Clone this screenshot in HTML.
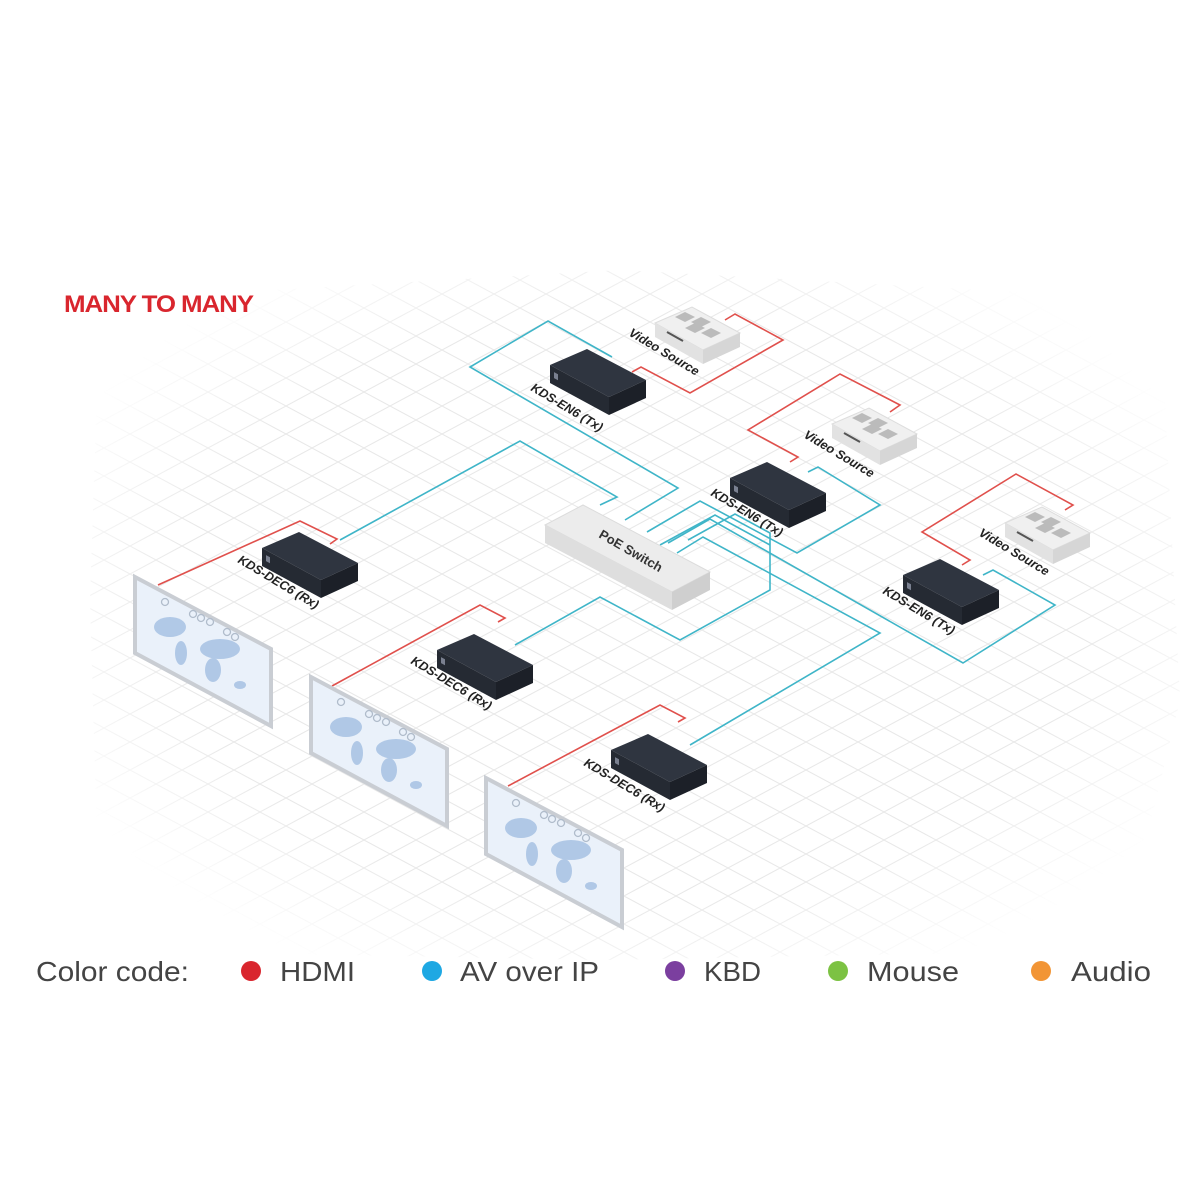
<!DOCTYPE html>
<html><head><meta charset="utf-8"><style>
html,body{margin:0;padding:0;background:#fff}
svg{display:block}
text{font-family:"Liberation Sans",sans-serif}
</style></head><body>
<svg width="1200" height="1200" viewBox="0 0 1200 1200" xmlns="http://www.w3.org/2000/svg">
<defs>
<pattern id="grid" width="52" height="28" patternUnits="userSpaceOnUse">
<path d="M0 0 L52 28 M52 0 L0 28 M-26 14 L0 28 M26 -14 L78 14" stroke="#e8e8e8" stroke-width="1" fill="none"/>
</pattern>
<radialGradient id="fade" cx="0.5" cy="0.5" r="0.55">
<stop offset="0.72" stop-color="#fff" stop-opacity="0"/>
<stop offset="1" stop-color="#fff" stop-opacity="1"/>
</radialGradient>
<g id="bbox">
<polygon points="0,0 37,-16 96,15 59,32" fill="#2f3540"/>
<polygon points="59,32 96,15 96,33 59,50" fill="#1c2028"/>
<polygon points="0,0 59,32 59,50 0,18" fill="#252a33"/>
<rect x="4" y="5" width="4" height="6" fill="#7a8090" transform="skewY(28)"/>
</g>
<g id="vs">
<polygon points="0,0 37,-16 85,10 48,27" fill="#f0f0f0" stroke="#ddd"/>
<polygon points="48,27 85,10 85,24 48,41" fill="#d6d6d6"/>
<polygon points="0,0 48,27 48,41 0,14" fill="#e2e2e2"/>
<g fill="#bbb"><polygon points="20,-6 30,-11 40,-6 30,-1"/><polygon points="36,-1 46,-6 56,-1 46,4"/><polygon points="30,5 40,0 50,5 40,10"/><polygon points="46,10 56,5 66,10 56,15"/></g>
<line x1="12" y1="9" x2="28" y2="18" stroke="#555" stroke-width="2"/>
</g>
<g id="disp">
<polygon points="0,0 136,72 136,149 0,76" fill="#eaf1fa" stroke="#c9cdd3" stroke-width="4"/>
<g fill="#9dbbe0" opacity="0.75">
<ellipse cx="35" cy="50" rx="16" ry="10"/><ellipse cx="46" cy="76" rx="6" ry="12"/>
<ellipse cx="85" cy="72" rx="20" ry="10"/><ellipse cx="78" cy="93" rx="8" ry="12"/><ellipse cx="105" cy="108" rx="6" ry="4"/>
</g>
<g fill="none" stroke="#b0bccb" stroke-width="1.3"><circle cx="30" cy="25" r="3.5"/><circle cx="58" cy="37" r="3.5"/><circle cx="66" cy="41" r="3.5"/><circle cx="75" cy="45" r="3.5"/><circle cx="92" cy="55" r="3.5"/><circle cx="100" cy="60" r="3.5"/></g>
</g>
</defs>
<rect width="1200" height="1200" fill="#fff"/>
<polygon points="100,300 620,270 1160,300 1180,700 1120,950 600,960 100,950 90,600" fill="url(#grid)"/>
<rect x="60" y="240" width="1140" height="740" fill="url(#fade)"/>

<text x="64" y="312" font-size="24" font-weight="bold" fill="#d9262e" letter-spacing="-1" textLength="189" lengthAdjust="spacingAndGlyphs">MANY TO MANY</text>

<g fill="none" stroke="#3fb5c8" stroke-width="1.6">
<polyline points="612,357 548,321 470,367 678,488 625,520"/>
<polyline points="808,472 818,467 880,505 797,553 700,501 647,532"/>
<polyline points="983,575 993,570 1055,605 963,663 710,519 668,543"/>
<polyline points="600,505 617,497 520,441 340,540"/>
<polyline points="677,553 703,537 880,633 690,745"/>
<polyline points="660,545 715,515 770,545"/>
<polyline points="688,540 735,514 770,533 770,590 680,640 600,597 515,645"/>
</g>
<g fill="none" stroke="#e0504c" stroke-width="1.6">
<polyline points="632,372 641,367 690,393 783,340 735,314 725,320"/>
<polyline points="790,462 798,457 748,430 840,374 900,405 890,412"/>
<polyline points="962,565 970,560 922,532 1016,474 1073,505 1065,510"/>
<polyline points="158,585 300,521 337,539 330,544"/>
<polyline points="332,686 480,605 505,618 498,622"/>
<polyline points="508,786 660,705 685,718 678,722"/>
</g>

<polygon points="545,525 583,505 710,572 672,592" fill="#ececec" stroke="#dcdcdc"/>
<polygon points="672,592 710,572 710,590 672,610" fill="#cfcfcf"/>
<polygon points="545,525 672,592 672,610 545,543" fill="#dedede"/>
<text x="598" y="537" font-size="13" font-weight="bold" fill="#333" transform="rotate(30 598 537)">PoE Switch</text>

<use href="#vs" x="655" y="323"/>
<use href="#vs" x="832" y="424"/>
<use href="#vs" x="1005" y="523"/>
<use href="#bbox" x="550" y="365"/>
<use href="#bbox" x="730" y="478"/>
<use href="#bbox" x="903" y="575"/>
<use href="#bbox" x="262" y="548"/>
<use href="#bbox" x="437" y="650"/>
<use href="#bbox" x="611" y="750"/>
<use href="#disp" x="135" y="577"/>
<use href="#disp" x="311" y="677"/>
<use href="#disp" x="486" y="778"/>

<g font-size="12.5" font-weight="bold" font-style="italic" fill="#222">
<text x="628" y="335" transform="rotate(31 628 335)">Video Source</text>
<text x="803" y="437" transform="rotate(31 803 437)">Video Source</text>
<text x="978" y="535" transform="rotate(31 978 535)">Video Source</text>
<text x="530" y="390" transform="rotate(31 530 390)">KDS-EN6 (Tx)</text>
<text x="710" y="495" transform="rotate(31 710 495)">KDS-EN6 (Tx)</text>
<text x="882" y="593" transform="rotate(31 882 593)">KDS-EN6 (Tx)</text>
<text x="237" y="562" transform="rotate(31 237 562)">KDS-DEC6 (Rx)</text>
<text x="410" y="663" transform="rotate(31 410 663)">KDS-DEC6 (Rx)</text>
<text x="583" y="765" transform="rotate(31 583 765)">KDS-DEC6 (Rx)</text>
</g>

<g font-size="28" fill="#444">
<text x="36" y="981" textLength="153" lengthAdjust="spacingAndGlyphs">Color code:</text>
<circle cx="251" cy="971" r="10" fill="#d9262e"/><text x="280" y="981" textLength="75" lengthAdjust="spacingAndGlyphs">HDMI</text>
<circle cx="432" cy="971" r="10" fill="#1ea8e3"/><text x="460" y="981" textLength="139" lengthAdjust="spacingAndGlyphs">AV over IP</text>
<circle cx="675" cy="971" r="10" fill="#7b3f9f"/><text x="704" y="981" textLength="57" lengthAdjust="spacingAndGlyphs">KBD</text>
<circle cx="838" cy="971" r="10" fill="#7cc243"/><text x="867" y="981" textLength="92" lengthAdjust="spacingAndGlyphs">Mouse</text>
<circle cx="1041" cy="971" r="10" fill="#f29535"/><text x="1071" y="981" textLength="80" lengthAdjust="spacingAndGlyphs">Audio</text>
</g>
</svg>
</body></html>
